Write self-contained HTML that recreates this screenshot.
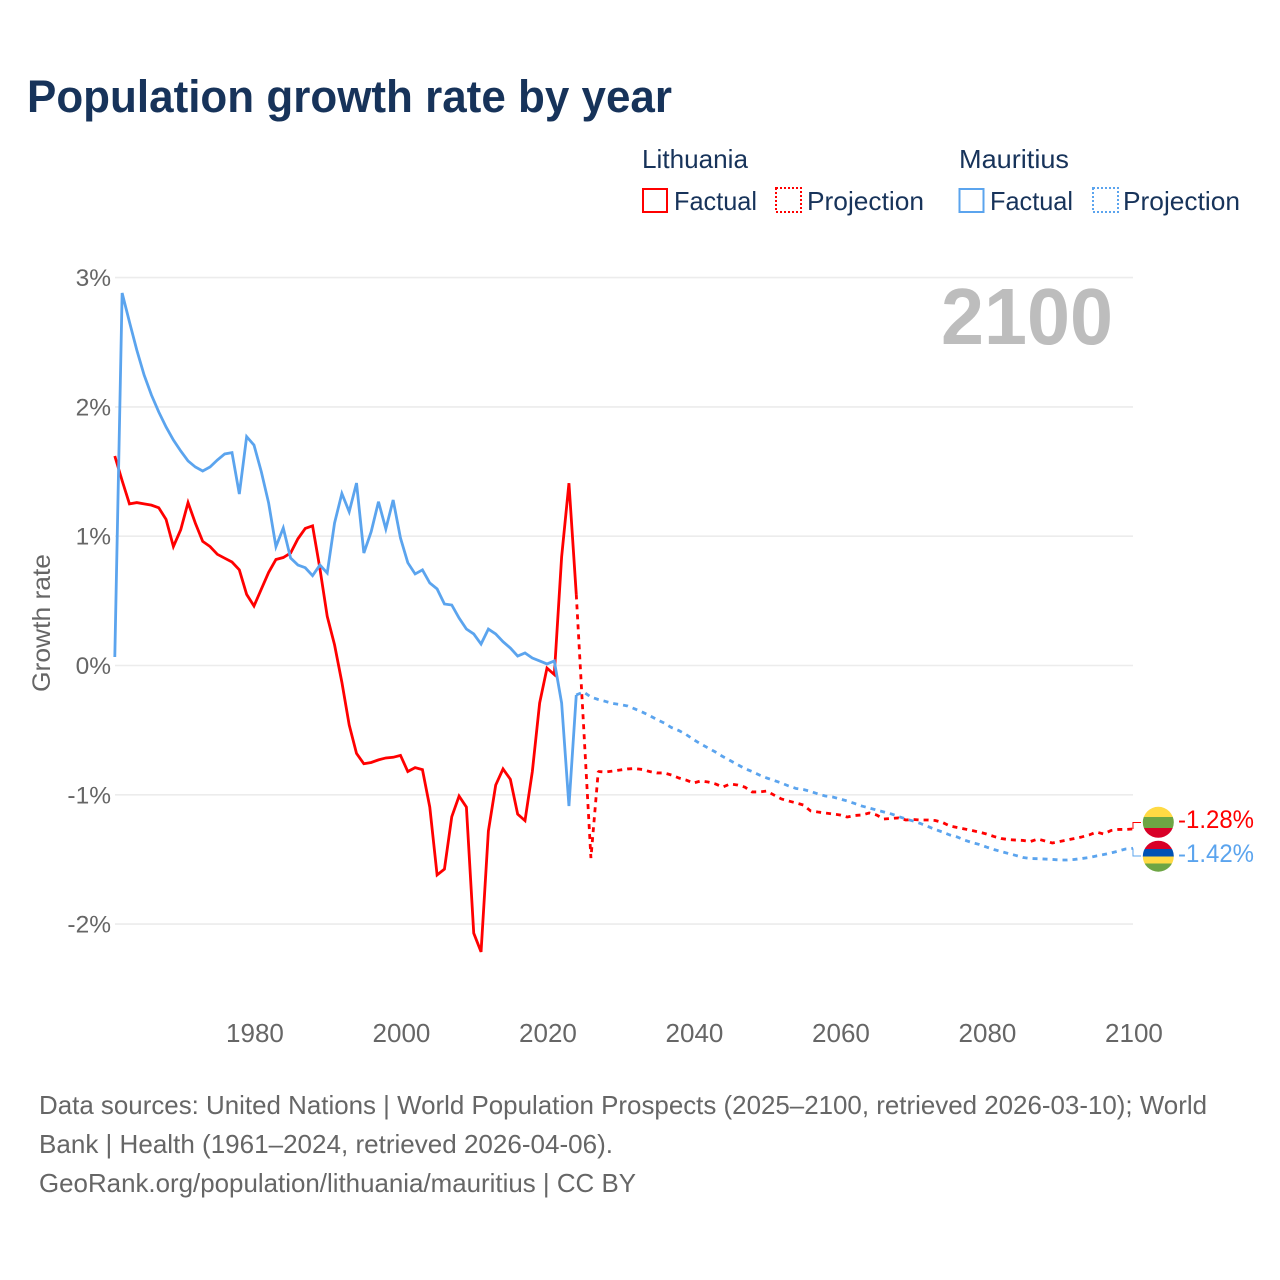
<!DOCTYPE html>
<html lang="en">
<head>
<meta charset="utf-8">
<title>Population growth rate by year</title>
<style>
html,body{margin:0;padding:0;background:#fff}
svg{display:block}
text{font-family:"Liberation Sans",sans-serif}
</style>
</head>
<body>
<svg id="chart" xmlns="http://www.w3.org/2000/svg" width="1280" height="1280" viewBox="0 0 1280 1280">
  <rect width="1280" height="1280" fill="#fff"/>
  <text x="27" y="112" font-size="45" font-weight="700" fill="#17335a" textLength="645" lengthAdjust="spacingAndGlyphs">Population growth rate by year</text>

  <g font-size="26" fill="#17335a">
    <text x="642" y="168" textLength="106" lengthAdjust="spacingAndGlyphs">Lithuania</text>
    <rect x="643" y="189" width="24" height="23" fill="none" stroke="#ff0000" stroke-width="2"/>
    <text x="674" y="210" textLength="83" lengthAdjust="spacingAndGlyphs">Factual</text>
    <rect x="776" y="188" width="25" height="24" fill="none" stroke="#ff0000" stroke-width="2" stroke-dasharray="2,2"/>
    <text x="807" y="210" textLength="117" lengthAdjust="spacingAndGlyphs">Projection</text>
    <text x="959" y="168" textLength="110" lengthAdjust="spacingAndGlyphs">Mauritius</text>
    <rect x="959.5" y="189" width="24" height="23" fill="none" stroke="#5ba4ee" stroke-width="2"/>
    <text x="990" y="210" textLength="83" lengthAdjust="spacingAndGlyphs">Factual</text>
    <rect x="1093" y="188" width="25" height="24" fill="none" stroke="#5ba4ee" stroke-width="2" stroke-dasharray="2,2"/>
    <text x="1123" y="210" textLength="117" lengthAdjust="spacingAndGlyphs">Projection</text>
  </g>

  <g id="grid"></g>
  <g id="y-ticks"></g>
  <g id="x-ticks"></g>
  <text transform="translate(50,692) rotate(-90)" font-size="25" fill="#666" textLength="138" lengthAdjust="spacingAndGlyphs">Growth rate</text>
  <text x="941" y="344" font-size="80" font-weight="700" fill="#bdbdbd" textLength="172" lengthAdjust="spacingAndGlyphs">2100</text>
  <g id="series"></g>

  <g>
    <clipPath id="clip-lt"><circle cx="1158.3" cy="822.3" r="15.5"/></clipPath>
    <g clip-path="url(#clip-lt)">
      <rect x="1142" y="806" width="33" height="11" fill="#ffda44"/>
      <rect x="1142" y="817" width="33" height="11" fill="#6da544"/>
      <rect x="1142" y="828" width="33" height="11" fill="#d80027"/>
    </g>
  </g>
  <g>
    <clipPath id="clip-mu"><circle cx="1158.3" cy="856.2" r="15.5"/></clipPath>
    <g clip-path="url(#clip-mu)">
      <rect x="1142" y="840" width="33" height="9" fill="#d80027"/>
      <rect x="1142" y="849" width="33" height="7.5" fill="#0052b4"/>
      <rect x="1142" y="856.5" width="33" height="7" fill="#ffda44"/>
      <rect x="1142" y="863.5" width="33" height="9" fill="#6da544"/>
    </g>
  </g>
  <g id="end-labels"></g>

  <g font-size="26" fill="#666">
    <text x="39" y="1114" textLength="1168" lengthAdjust="spacingAndGlyphs">Data sources: United Nations | World Population Prospects (2025–2100, retrieved 2026-03-10); World</text>
    <text x="39" y="1153" textLength="574" lengthAdjust="spacingAndGlyphs">Bank | Health (1961–2024, retrieved 2026-04-06).</text>
    <text x="39" y="1192" textLength="597" lengthAdjust="spacingAndGlyphs">GeoRank.org/population/lithuania/mauritius | CC BY</text>
  </g>
</svg>
<script>
const yTickValues = [3, 2, 1, 0, -1, -2];
const xTickYears = [1980, 2000, 2020, 2040, 2060, 2080, 2100];
const factualStartYear = 1961;
const projectionStartYear = 2025;
const lithuaniaFactual = [1.62,1.43,1.25,1.26,1.25,1.24,1.22,1.13,0.92,1.05,1.26,1.10,0.96,0.92,0.86,0.83,0.80,0.74,0.55,0.46,0.59,0.72,0.82,0.835,0.87,0.98,1.06,1.08,0.75,0.38,0.16,-0.13,-0.46,-0.68,-0.76,-0.75,-0.73,-0.715,-0.71,-0.695,-0.82,-0.79,-0.805,-1.095,-1.62,-1.575,-1.17,-1.01,-1.095,-2.07,-2.215,-1.28,-0.925,-0.80,-0.88,-1.15,-1.20,-0.82,-0.29,-0.02,-0.07,0.84,1.41,0.55];
const lithuaniaProjection = [-0.468,-1.489,-0.82,-0.824,-0.816,-0.808,-0.80,-0.797,-0.804,-0.82,-0.831,-0.831,-0.847,-0.87,-0.886,-0.909,-0.893,-0.901,-0.916,-0.94,-0.916,-0.924,-0.94,-0.978,-0.978,-0.971,-1.002,-1.032,-1.048,-1.063,-1.079,-1.125,-1.133,-1.141,-1.148,-1.156,-1.172,-1.16,-1.156,-1.141,-1.156,-1.187,-1.183,-1.179,-1.195,-1.191,-1.195,-1.195,-1.199,-1.214,-1.241,-1.253,-1.264,-1.276,-1.288,-1.303,-1.322,-1.338,-1.346,-1.35,-1.353,-1.361,-1.342,-1.357,-1.373,-1.361,-1.35,-1.338,-1.326,-1.311,-1.288,-1.303,-1.276,-1.268,-1.268,-1.264];
const mauritiusFactual = [0.066,2.881,2.657,2.44,2.247,2.092,1.961,1.845,1.744,1.659,1.582,1.535,1.504,1.535,1.589,1.636,1.646,1.326,1.77,1.705,1.499,1.257,0.919,1.063,0.831,0.777,0.756,0.695,0.777,0.715,1.102,1.33,1.189,1.411,0.87,1.035,1.267,1.056,1.28,0.986,0.795,0.708,0.739,0.638,0.592,0.476,0.468,0.367,0.282,0.244,0.166,0.282,0.244,0.184,0.135,0.073,0.097,0.058,0.035,0.012,0.035,-0.29,-1.087,-0.228];
const mauritiusProjection = [-0.205,-0.244,-0.263,-0.278,-0.294,-0.302,-0.313,-0.336,-0.36,-0.387,-0.418,-0.445,-0.48,-0.503,-0.534,-0.572,-0.607,-0.638,-0.669,-0.704,-0.735,-0.766,-0.797,-0.82,-0.847,-0.87,-0.889,-0.909,-0.932,-0.951,-0.959,-0.974,-0.994,-1.009,-1.017,-1.032,-1.048,-1.067,-1.087,-1.102,-1.118,-1.133,-1.148,-1.168,-1.187,-1.203,-1.222,-1.245,-1.268,-1.288,-1.311,-1.326,-1.35,-1.369,-1.384,-1.404,-1.423,-1.439,-1.454,-1.469,-1.485,-1.493,-1.494,-1.497,-1.5,-1.504,-1.504,-1.5,-1.493,-1.485,-1.473,-1.462,-1.45,-1.435,-1.419,-1.414];
const endValueLabels = ["-1.28%", "-1.42%"];

const NS = 'http://www.w3.org/2000/svg';
function xScale(year) { return 114.8 + (year - 1961) * 7.325; }
function yScale(value) { return 665.5 - value * 129.3; }
function makeEl(tag, parentId) {
  const el = document.createElementNS(NS, tag);
  document.getElementById(parentId).appendChild(el);
  return el;
}

yTickValues.forEach(function (v) {
  const line = makeEl('line', 'grid');
  
  
  line.setAttribute('x1', 115);
  line.setAttribute('x2', 1133);
  line.setAttribute('y1', yScale(v));
  line.setAttribute('y2', yScale(v));
  line.setAttribute('stroke', '#ececec');
  line.setAttribute('stroke-width', 1.6);

  const label = makeEl('text', 'y-ticks');
  
  
  label.setAttribute('x', 111);
  label.setAttribute('y', yScale(v) + 8.5);
  label.setAttribute('text-anchor', 'end');
  label.setAttribute('font-size', 24.5);
  label.setAttribute('fill', '#666');
  label.textContent = v + '%';
});

xTickYears.forEach(function (year) {
  const label = makeEl('text', 'x-ticks');
  
  
  label.setAttribute('x', xScale(year) + 1);
  label.setAttribute('y', 1042);
  label.setAttribute('text-anchor', 'middle');
  label.setAttribute('font-size', 26);
  label.setAttribute('fill', '#666');
  label.textContent = year;
});

function pointsFor(values, startYear) {
  return values.map(function (v, i) {
    return xScale(startYear + i).toFixed(2) + ',' + yScale(v).toFixed(2);
  });
}

function drawSeries(name, color, factual, projection) {
  const lastYear = factualStartYear + factual.length - 1;
  const proj = makeEl('polyline', 'series');
  
  
  const joinPoint = xScale(lastYear).toFixed(2) + ',' + yScale(factual[factual.length - 1]).toFixed(2);
  proj.setAttribute('points', [joinPoint].concat(pointsFor(projection, projectionStartYear)).join(' '));
  proj.setAttribute('fill', 'none');
  proj.setAttribute('stroke', color);
  proj.setAttribute('stroke-width', 2.8);
  proj.setAttribute('stroke-dasharray', '5,5');
  proj.setAttribute('stroke-linejoin', 'bevel');

  const fact = makeEl('polyline', 'series');
  
  
  fact.setAttribute('points', pointsFor(factual, factualStartYear).join(' '));
  fact.setAttribute('fill', 'none');
  fact.setAttribute('stroke', color);
  fact.setAttribute('stroke-width', 2.8);
  fact.setAttribute('stroke-linejoin', 'miter');
}

drawSeries('lithuania', '#ff0000', lithuaniaFactual, lithuaniaProjection);
drawSeries('mauritius', '#5ba4ee', mauritiusFactual, mauritiusProjection);

function drawEnd(name, color, lastValue, anchorY, labelY, text) {
  const conn = makeEl('polyline', 'end-labels');
  
  
  const endX = xScale(2100).toFixed(2);
  conn.setAttribute('points', endX + ',' + yScale(lastValue).toFixed(2) + ' ' + endX + ',' + anchorY + ' 1141,' + anchorY);
  conn.setAttribute('fill', 'none');
  conn.setAttribute('stroke', color);
  conn.setAttribute('stroke-width', 1);

  const label = makeEl('text', 'end-labels');
  
  
  label.setAttribute('x', 1178);
  label.setAttribute('y', labelY);
  label.setAttribute('font-size', 25);
  label.setAttribute('fill', color);
  label.setAttribute('textLength', 76);
  label.setAttribute('lengthAdjust', 'spacingAndGlyphs');
  label.textContent = text;
}

drawEnd('lithuania', '#ff0000', lithuaniaProjection[lithuaniaProjection.length - 1], 822.5, 828, endValueLabels[0]);
drawEnd('mauritius', '#5ba4ee', mauritiusProjection[mauritiusProjection.length - 1], 856, 862, endValueLabels[1]);
</script>
</body>
</html>
